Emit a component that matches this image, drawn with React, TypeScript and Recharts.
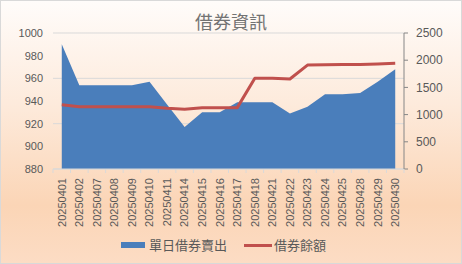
import React from "react";
import { ComposedChart, Area, Line, XAxis, YAxis, CartesianGrid } from "recharts";

const dates = [
  "20250401", "20250402", "20250407", "20250408", "20250409",
  "20250410", "20250411", "20250414", "20250415", "20250416",
  "20250417", "20250418", "20250421", "20250422", "20250423",
  "20250424", "20250425", "20250428", "20250429", "20250430",
];
// 單日借券賣出 (left axis)
const dailySell = [990, 954, 954, 954, 954, 957, 937, 917, 930, 930, 939, 939, 939, 929, 935, 946, 946, 947, 957, 968];
// 借券餘額 (right axis)
const balance = [1180, 1145, 1145, 1145, 1145, 1145, 1115, 1098, 1127, 1128, 1128, 1667, 1670, 1655, 1910, 1918, 1920, 1922, 1930, 1942];

const leftTicks = [880, 900, 920, 940, 960, 980, 1000];
const rightTicks = [0, 500, 1000, 1500, 2000, 2500];

const W = 462;
const H = 264;
const LEFT = 53;
const RIGHT = 58;
const HALF = (W - LEFT - RIGHT) / dates.length / 2;

const data = dates.map((d, i) => ({ date: d, sell: dailySell[i], balance: balance[i] }));

const BLUE = "#4a7ebb";
const RED = "#c0504d";
const TEXT = "#595959";

function DateTick(props: any) {
  const { x, y, payload } = props;
  const last = payload.index === dates.length - 1;
  return (
    <g transform={`translate(${x},${y})`}>
      <line x1={-HALF} x2={-HALF} y1={0} y2={4} stroke="#d9d9d9" />
      {last && <line x1={HALF} x2={HALF} y1={0} y2={4} stroke="#d9d9d9" />}
      <text
        transform="rotate(-90)"
        x={-9}
        y={0}
        dy="0.35em"
        textAnchor="end"
        fill={TEXT}
        fontSize={11}
        fontFamily="Liberation Sans"
      >
        {payload.value}
      </text>
    </g>
  );
}

export default function App() {
  return (
    <div
      style={{
        position: "fixed",
        left: 0,
        top: 0,
        width: W,
        height: H,
        boxSizing: "border-box",
        border: "1px solid #d9d9d9",
        background: "linear-gradient(to bottom, #fffcfa 0%, #fdeadb 40%, #fbd5b6 78%, #fcdcc4 100%)",
        fontFamily: "Liberation Sans",
      }}
    >
      <div
        style={{
          position: "absolute",
          left: 0,
          width: W - 2,
          top: 10,
          textAlign: "center",
          fontSize: 18,
          lineHeight: "20px",
          color: "#737373",
          fontFamily: "Noto Sans CJK TC",
        }}
      >
        借券資訊
      </div>
      <div style={{ position: "absolute", left: -1, top: -1 }}>
        <ComposedChart width={W} height={H} data={data} margin={{ top: 33, right: 0, bottom: 35, left: 0 }}>
          <CartesianGrid yAxisId="left" vertical={false} stroke="#d9d9d9" />
          <XAxis
            dataKey="date"
            interval={0}
            height={60}
            padding={{ left: HALF, right: HALF }}
            tickSize={0}
            tickMargin={0}
            tickLine={false}
            stroke="#d9d9d9"
            tick={<DateTick />}
          />
          <YAxis
            yAxisId="left"
            domain={[880, 1000]}
            ticks={leftTicks}
            width={LEFT}
            axisLine={false}
            tickLine={false}
            tickMargin={4}
            tick={{ fill: TEXT, fontSize: 11, fontFamily: "Liberation Sans" }}
          />
          <YAxis
            yAxisId="right"
            orientation="right"
            domain={[0, 2500]}
            ticks={rightTicks}
            width={RIGHT}
            stroke="#868686"
            tickSize={4}
            tickMargin={8}
            tick={{ fill: TEXT, fontSize: 12, fontFamily: "Liberation Sans", textAnchor: "start" }}
          />
          <Area
            yAxisId="left"
            dataKey="sell"
            type="linear"
            fill={BLUE}
            fillOpacity={1}
            stroke="none"
            isAnimationActive={false}
          />
          <Line
            yAxisId="right"
            dataKey="balance"
            type="linear"
            stroke={RED}
            strokeWidth={3}
            strokeLinejoin="round"
            dot={false}
            isAnimationActive={false}
          />
        </ComposedChart>
      </div>
      <div
        style={{
          position: "absolute",
          top: 234,
          left: 120,
          display: "flex",
          alignItems: "center",
          fontSize: 13,
          lineHeight: "20px",
          color: TEXT,
          fontFamily: "Noto Sans CJK TC",
        }}
      >
        <span style={{ display: "inline-block", width: 24, height: 6, background: BLUE, marginRight: 4 }} />
        <span>單日借券賣出</span>
        <span style={{ display: "inline-block", width: 28, height: 3, background: RED, marginLeft: 17, marginRight: 2 }} />
        <span>借券餘額</span>
      </div>
    </div>
  );
}
